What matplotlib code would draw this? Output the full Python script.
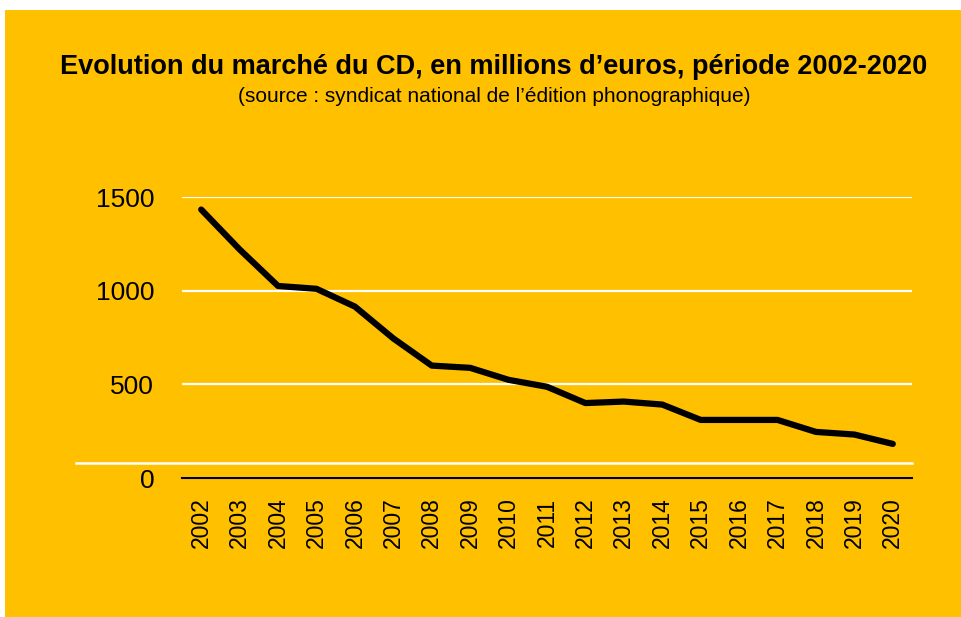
import matplotlib.pyplot as plt
from matplotlib.patches import Rectangle
from matplotlib.lines import Line2D

# Données
annees = ['2002', '2003', '2004', '2005', '2006', '2007', '2008', '2009', '2010',
          '2011', '2012', '2013', '2014', '2015', '2016', '2017', '2018', '2019', '2020']
ventes_cd = [1433, 1220, 1025, 1010, 915, 745, 600, 588, 524,
             487, 400, 408, 392, 310, 310, 310, 246, 232, 182]

orange = '#FFC000'

fig = plt.figure(figsize=(9.62, 6.17), dpi=100, facecolor='white')
# fond orange (petite marge blanche en haut et à gauche)
fig.add_artist(Rectangle((5 / 962, -0.05), 1.1, 1.05 - 10 / 617, transform=fig.transFigure,
                         facecolor=orange, edgecolor='none', zorder=0))

ax = fig.add_axes([182 / 962, 1 - 478 / 617, 730 / 962, (478 - 197) / 617])
ax.set_facecolor('none')

x = range(len(annees))
ax.plot(x, ventes_cd, color='black', lw=4.5, solid_capstyle='round', solid_joinstyle='round', zorder=3)

ax.set_xlim(-0.5, len(annees) - 0.5)
ax.set_ylim(0, 1500)
ax.set_yticks([0, 500, 1000, 1500])
ax.set_xticks(list(x))
ax.set_xticklabels(annees, rotation=90, fontsize=16.5, family='Liberation Sans')
ax.tick_params(axis='y', labelsize=19, length=0, pad=20)
ax.tick_params(axis='x', length=0, pad=14)
for lab in ax.get_yticklabels():
    lab.set_family('Liberation Sans')

ax.grid(axis='y', color='white', lw=1.6)
ax.set_axisbelow(True)
for s in ['top', 'right', 'left']:
    ax.spines[s].set_visible(False)
ax.spines['bottom'].set_color('black')
ax.spines['bottom'].set_linewidth(1.5)
ax.spines['bottom'].set_zorder(4)

# trait blanc décoratif au-dessus de l'axe
fig.add_artist(Line2D([76 / 962, 912 / 962], [1 - 463 / 617, 1 - 463 / 617],
                      transform=fig.transFigure, color='white', lw=1.8))

fig.text(494 / 962, 1 - 67 / 617, 'Evolution du marché du CD, en millions d\u2019euros, période 2002-2020',
         ha='center', va='center', fontsize=19.5, fontweight='bold',
         family=['Liberation Sans Narrow', 'Liberation Sans'])
fig.text(494 / 962, 1 - 97 / 617, '(source : syndicat national de l\u2019édition phonographique)',
         ha='center', va='center', fontsize=15,
         family=['Liberation Sans Narrow', 'Liberation Sans'])

fig.savefig('out.png', dpi=100, facecolor=fig.get_facecolor())
